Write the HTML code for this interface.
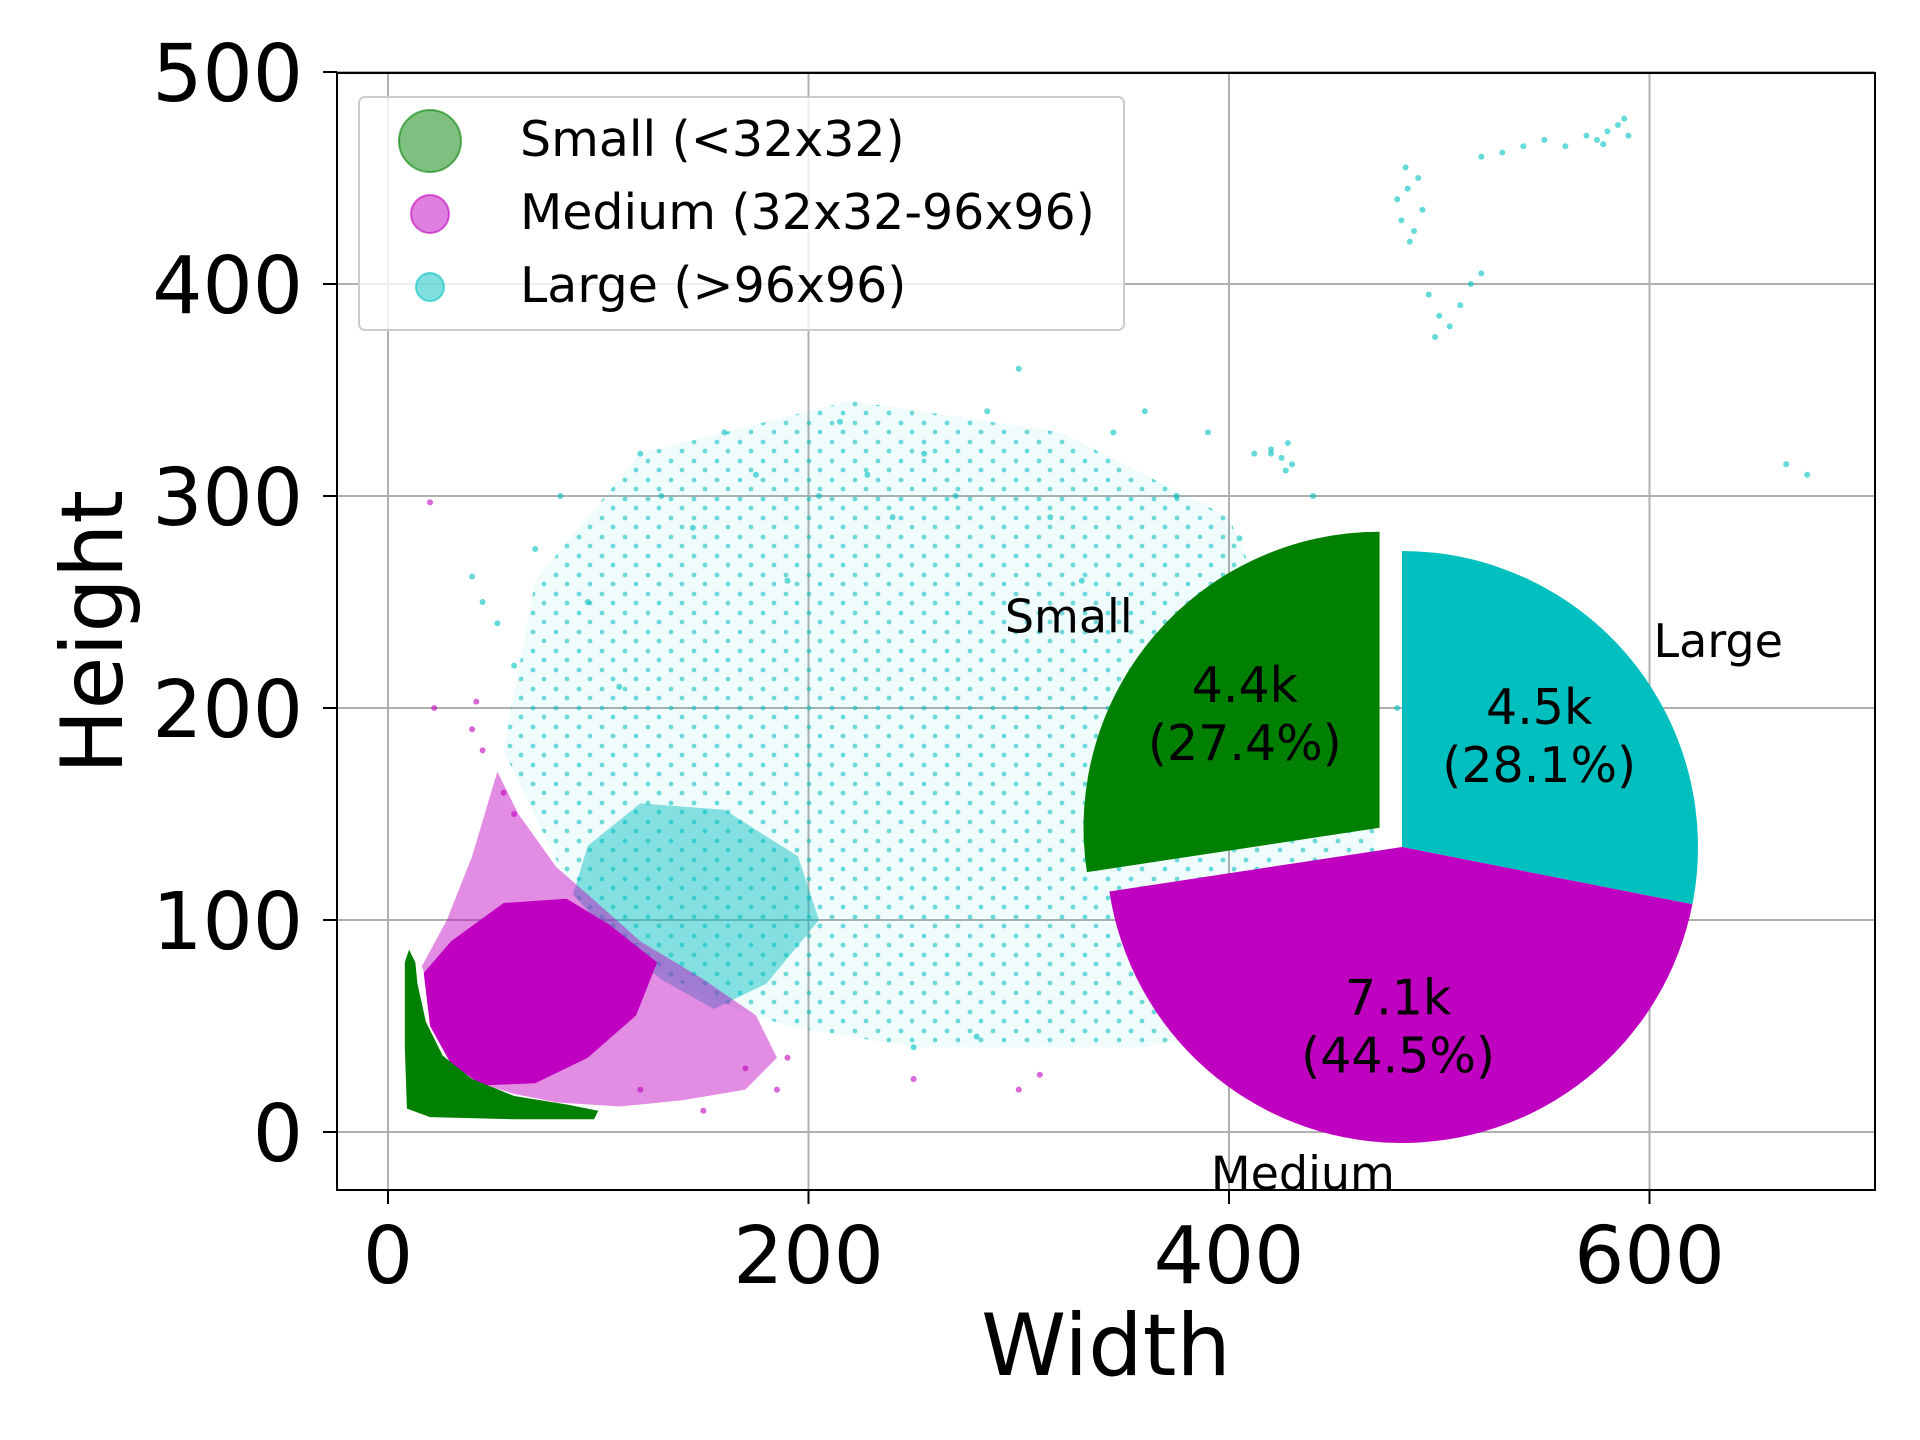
<!DOCTYPE html>
<html><head><meta charset="utf-8"><style>
html,body{margin:0;padding:0;background:#fff;width:1920px;height:1440px;overflow:hidden}
svg text{font-family:"DejaVu Sans","Liberation Sans",sans-serif}
</style></head><body>
<svg id="chart" width="1920" height="1440" viewBox="0 0 1920 1440" xmlns="http://www.w3.org/2000/svg">
<defs>
<pattern id="dots" width="23" height="19" patternUnits="userSpaceOnUse">
<circle cx="4" cy="5" r="2.4" fill="#00bfbf" fill-opacity="0.55"/>
<circle cx="15" cy="14" r="2.4" fill="#00bfbf" fill-opacity="0.55"/>
</pattern>
</defs>
<g id="grid"></g>
<g id="regions"></g>
<g id="points"></g>
<g id="pie"></g>
<rect x="337" y="73" width="1538" height="1117" fill="none" stroke="#000" stroke-width="2"/>
<g id="ticks"></g>
<text x="1106" y="1375" font-size="86" text-anchor="middle">Width</text>
<text transform="translate(122,632) rotate(-90)" font-size="86" text-anchor="middle">Height</text>
<g>
<rect x="359" y="97" width="765" height="233" rx="6" fill="#fff" fill-opacity="0.8" stroke="#ccc" stroke-width="2"/>
<g><circle cx="430" cy="141" r="31" fill="green" fill-opacity="0.5" stroke="green" stroke-opacity="0.6" stroke-width="2"/><text x="520" y="156" font-size="49">Small (&lt;32x32)</text></g>
<g><circle cx="430" cy="214" r="19" fill="#c000c0" fill-opacity="0.5" stroke="#c000c0" stroke-opacity="0.6" stroke-width="2"/><text x="520" y="229" font-size="49">Medium (32x32-96x96)</text></g>
<g><circle cx="430" cy="287" r="14" fill="#00bfbf" fill-opacity="0.5" stroke="#00bfbf" stroke-opacity="0.6" stroke-width="2"/><text x="520" y="302" font-size="49">Large (&gt;96x96)</text></g>
</g>
</svg>
<script>
const xTicks=[0,200,400,600];
const yTicks=[0,100,200,300,400,500];
const pieLabels=['Large','Medium','Small'];
const pieCounts=['4.5k','7.1k','4.4k'];
const piePercents=[28.1,44.5,27.4];
const pieColors=['#00bfbf','#c000c0','green'];
const pieExplode=[0,0,0.1];
const greenRegion=[[10,86],[13,80],[14,70],[18,52],[26,36],[40,25],[60,17],[85,13],[100,10],[98,6],[60,6],[20,7],[9,11],[8,40],[8,80]];
const magentaCore=[[17,75],[30,90],[55,108],[85,110],[105,98],[128,80],[118,55],[95,35],[70,23],[45,22],[30,32],[20,50]];
const magentaHalo=[[16,78],[28,100],[40,130],[52,170],[62,150],[80,125],[95,112],[120,90],[150,72],[175,55],[185,35],[170,20],[140,15],[110,12],[80,14],[60,18],[40,24]];
const cyanDense=[[88,112],[95,135],[120,155],[160,152],[195,130],[205,100],[180,70],[155,58],[130,72],[110,88]];
const cyanCloud=[[88,112],[55,180],[70,260],[120,320],[220,345],[320,330],[400,290],[430,220],[470,140],[460,60],[360,40],[250,40],[190,50],[160,60],[120,80]];
const cyanX=[40,45,52,60,70,82,95,110,120,130,145,160,175,190,205,215,228,240,255,270,285,300,315,330,345,360,375,390,405,420,440,460,480,412,425,428,430,420,427,480,482,485,488,490,492,486,484,500,505,510,498,495,515,520,560,570,575,580,585,590,578,588,550,540,530,520,665,675,250,280];
const cyanY=[262,250,240,220,275,300,250,210,320,300,285,330,310,260,300,335,310,290,320,300,340,360,290,260,330,340,300,330,280,320,300,240,200,320,318,325,315,322,312,440,430,445,425,450,435,420,455,385,380,390,375,395,400,405,465,470,468,472,475,470,466,478,468,465,462,460,315,310,40,45];
const magX=[20,22,40,42,45,55,60,120,150,170,185,190,250,300,310];
const magY=[297,200,190,203,180,160,150,20,10,30,20,35,25,20,27];
const X0=388,XS=420.5/200,Y0=1132,YS=212/100;
const sx=v=>X0+v*XS, sy=v=>Y0-v*YS;
const NS='http://www.w3.org/2000/svg';
function mk(tag,attrs,parent){const e=document.createElementNS(NS,tag);for(const k in attrs)e.setAttribute(k,attrs[k]);parent.appendChild(e);return e;}
const grid=document.getElementById('grid'),ticks=document.getElementById('ticks');
xTicks.forEach(t=>{
 const l=mk('line',{x1:sx(t),x2:sx(t),y1:73,y2:1190,stroke:'#b0b0b0','stroke-width':2},grid);
 
 
 const tk=mk('line',{x1:sx(t),x2:sx(t),y1:1190,y2:1204,stroke:'#000','stroke-width':2},ticks);
 
 
 const tx=mk('text',{x:sx(t),y:1283,'font-size':79,'text-anchor':'middle'},ticks);tx.textContent=t;
 
 
});
yTicks.forEach(t=>{
 const l=mk('line',{x1:337,x2:1875,y1:sy(t),y2:sy(t),stroke:'#b0b0b0','stroke-width':2},grid);
 
 
 const tk=mk('line',{x1:323,x2:337,y1:sy(t),y2:sy(t),stroke:'#000','stroke-width':2},ticks);
 
 
 const tx=mk('text',{x:303,y:sy(t)+29,'font-size':79,'text-anchor':'end'},ticks);tx.textContent=t;
 
 
});
const reg=document.getElementById('regions');
function poly(pts,fill,op,name){const p=mk('polygon',{points:pts.map(q=>sx(q[0])+','+sy(q[1])).join(' '),fill:fill,'fill-opacity':op,'stroke-linejoin':'round'},reg);
 
 }
poly(cyanCloud,'url(#dots)',1,'large-sparse-cloud');
poly(cyanCloud,'#00bfbf',0.06,'large-sparse-tint');
poly(cyanDense,'#00bfbf',0.45,'large-dense-cloud');
poly(magentaHalo,'#c000c0',0.45,'medium-halo');
poly(magentaCore,'#c000c0',1,'medium-core');
poly(greenRegion,'green',1,'small-cloud');
const pts=document.getElementById('points');
cyanX.forEach((x,i)=>{const c=mk('circle',{cx:sx(x),cy:sy(cyanY[i]),r:3,fill:'#00bfbf','fill-opacity':0.6},pts);
 
 });
magX.forEach((x,i)=>{const c=mk('circle',{cx:sx(x),cy:sy(magY[i]),r:3,fill:'#c000c0','fill-opacity':0.6},pts);
 
 });
const pie=document.getElementById('pie');
const CX=1402,CY=847,R=296;
let ang=90;
const tot=piePercents.reduce((a,b)=>a+b,0);
piePercents.forEach((p,i)=>{
 const sweep=p/tot*360, a0=ang, a1=ang-sweep, mid=(a0+a1)/2*Math.PI/180;
 const ox=CX+pieExplode[i]*R*Math.cos(mid), oy=CY-pieExplode[i]*R*Math.sin(mid);
 const r0=a0*Math.PI/180,r1=a1*Math.PI/180;
 const d=`M${ox},${oy} L${ox+R*Math.cos(r0)},${oy-R*Math.sin(r0)} A${R},${R} 0 ${sweep>180?1:0} 1 ${ox+R*Math.cos(r1)},${oy-R*Math.sin(r1)} Z`;
 const w=mk('path',{d:d,fill:pieColors[i]},pie);
 
 
 const px=ox+0.6*R*Math.cos(mid), py=oy-0.6*R*Math.sin(mid);
 const t1=mk('text',{x:px,y:py-10,'font-size':49,'text-anchor':'middle'},pie);t1.textContent=pieCounts[i];
 
 
 const t2=mk('text',{x:px,y:py+48,'font-size':49,'text-anchor':'middle'},pie);t2.textContent='('+p.toFixed(1)+'%)';
 
 
 const lx=ox+1.1*R*Math.cos(mid), ly=oy-1.1*R*Math.sin(mid);
 const anchor=Math.cos(mid)>0?'start':'end';
 const t3=mk('text',{x:lx,y:ly+17,'font-size':46,'text-anchor':anchor},pie);t3.textContent=pieLabels[i];
 
 
 ang=a1;
});
</script>
</body></html>
